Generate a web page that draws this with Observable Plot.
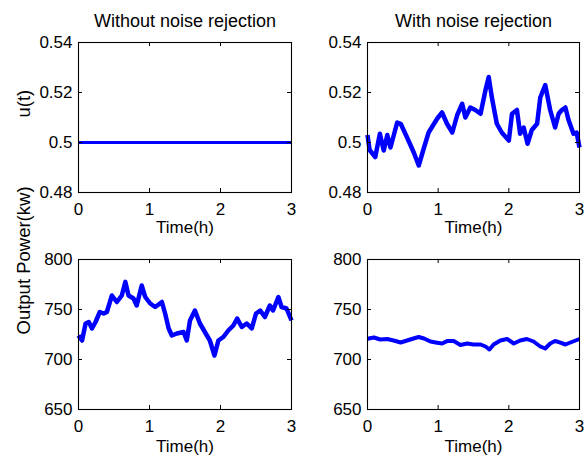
<!DOCTYPE html>
<html><head><meta charset="utf-8">
<script src="https://cdn.jsdelivr.net/npm/d3@7"></script>
<script src="https://cdn.jsdelivr.net/npm/@observablehq/plot@0.6"></script>
<style>
body{margin:0;background:#fff;}
#chart{position:relative;width:585px;height:456px;font-family:"Liberation Sans",Arial,Helvetica,sans-serif;}
#chart svg{position:absolute;overflow:visible;}
</style></head><body><div id="chart"></div>
<script>
// ---- data ----
const timeFlat = [0, 3];
const uWithout = [0.5, 0.5];

const timeU = [0,0.03,0.11,0.175,0.23,0.28,0.325,0.42,0.47,0.56,0.655,0.725,0.8,0.865,0.985,1.055,1.125,1.2,1.27,1.34,1.385,1.455,1.525,1.6,1.67,1.715,1.76,1.83,1.9,2.0,2.045,2.115,2.16,2.21,2.265,2.325,2.4,2.445,2.515,2.585,2.655,2.705,2.75,2.8,2.845,2.915,2.96,3.0];
const uWith = [0.503,0.497,0.4942,0.5035,0.4968,0.503,0.498,0.508,0.5075,0.502,0.496,0.4908,0.498,0.504,0.5095,0.512,0.5075,0.504,0.511,0.5155,0.510,0.514,0.513,0.5115,0.521,0.5262,0.518,0.5075,0.504,0.5008,0.5115,0.513,0.5035,0.506,0.4995,0.505,0.5075,0.518,0.523,0.513,0.506,0.5115,0.513,0.514,0.509,0.5035,0.504,0.498];

const timeP1 = [0,0.05,0.1,0.145,0.19,0.24,0.3,0.355,0.4,0.47,0.54,0.61,0.66,0.705,0.775,0.82,0.89,0.94,1.01,1.08,1.175,1.22,1.27,1.315,1.385,1.48,1.525,1.57,1.64,1.71,1.78,1.85,1.915,1.97,2.04,2.11,2.18,2.235,2.3,2.37,2.44,2.5,2.56,2.625,2.695,2.74,2.815,2.86,2.93,3.0];
const powerWithout = [724,719,736,737.5,731,737.5,747.5,746,747.5,764,757.5,764,777.6,764,761,754,774,762.5,756,752.5,757.5,746,731,724,726,727.5,719,739,749,736,727.5,719,704,719,722.5,729,734,741,732.5,736,731,746,749,742.5,754,749,762.5,752.5,751,739];

const timeP2 = [0,0.09,0.18,0.28,0.37,0.47,0.56,0.65,0.725,0.8,0.89,0.985,1.055,1.125,1.22,1.315,1.41,1.5,1.6,1.67,1.725,1.785,1.88,1.975,2.07,2.16,2.255,2.35,2.445,2.515,2.585,2.655,2.73,2.8,2.89,3.0];
const powerWith = [720.8,722,720,720.5,719,717,719,721,722.5,721,718,716.8,716,718.4,718.5,714.5,716,715,715,713,710,715,719,720.5,716,719,720.5,718,713,711,716,718.5,716.8,715,717.5,720.5];

const xTicks = [0, 1, 2, 3];
const uTicks = [0.48, 0.5, 0.52, 0.54];
const pTicks = [650, 700, 750, 800];
const titles = ["Without noise rejection", "With noise rejection"];
const yLabels = ["u(t)", "Output Power(kw)"];
const xLabel = "Time(h)";

// ---- drawing ----
const FONT = '"Liberation Sans", Arial, Helvetica, sans-serif';
const chart = document.getElementById("chart");

function panel(o) {
  const data = o.t.map((x, i) => ({t: x, v: o.v[i]}));
  const ih = o.height - o.mt - o.mb, iw = o.width - o.ml - o.mr;
  const marks = [
    Plot.line(data, {x: "t", y: "v", stroke: "#0000ff", strokeWidth: o.sw, strokeLinejoin: "round", strokeLinecap: "butt"}),
    Plot.frame({stroke: "#000", strokeWidth: 1.1}),
    Plot.tickX(xTicks, {x: d => d, insetTop: ih - 4, stroke: "#000"}),
    Plot.tickX(xTicks, {x: d => d, insetBottom: ih - 4, stroke: "#000"}),
    Plot.tickY(o.yTicks, {y: d => d, insetRight: iw - 4, stroke: "#000"}),
    Plot.tickY(o.yTicks, {y: d => d, insetLeft: iw - 4, stroke: "#000"}),
    Plot.axisX(xTicks, {tickSize: 0, tickPadding: 10, fontSize: 17, label: null, tickFormat: d => String(d), fill: "#000"}),
    Plot.axisY(o.yTicks, {tickSize: 0, tickPadding: 6, fontSize: 17, label: null, tickFormat: d => String(d), fill: "#000"}),
    Plot.text([xLabel], {text: d => d, frameAnchor: "bottom", dy: o.xlDy, lineAnchor: "middle", fontSize: 17, fill: "#000"})
  ];
  if (o.title) marks.push(Plot.text([o.title], {text: d => d, frameAnchor: "top", dy: -21, lineAnchor: "middle", fontSize: 18, fill: "#000"}));
  if (o.ylabel) marks.push(Plot.text([o.ylabel], {text: d => d, frameAnchor: "left", dx: -54, rotate: -90, lineAnchor: "middle", fontSize: 18.5, fill: "#000"}));
  const svg = Plot.plot({
    width: o.width, height: o.height,
    marginLeft: o.ml, marginRight: o.mr, marginTop: o.mt, marginBottom: o.mb,
    x: {domain: [0, 3], label: null},
    y: {domain: o.yDomain, label: null},
    style: {fontFamily: FONT, fontSize: "17px", background: "transparent", color: "#000"},
    marks
  });
  svg.style.left = o.left + "px";
  svg.style.top = o.top + "px";
  chart.appendChild(svg);
}

panel({left: 0, top: 0, width: 300, height: 235, ml: 78, mr: 9, mt: 42, mb: 43,
  t: timeFlat, v: uWithout, yDomain: [0.48, 0.54], yTicks: uTicks, title: titles[0], ylabel: yLabels[0], sw: 3, xlDy: 35});
panel({left: 292, top: 0, width: 293, height: 235, ml: 75, mr: 6, mt: 42, mb: 43,
  t: timeU, v: uWith, yDomain: [0.48, 0.54], yTicks: uTicks, title: titles[1], ylabel: null, sw: 4.5, xlDy: 35});
panel({left: 0, top: 228, width: 300, height: 228, ml: 78, mr: 9, mt: 31, mb: 47,
  t: timeP1, v: powerWithout, yDomain: [650, 800], yTicks: pTicks, title: null, ylabel: yLabels[1], sw: 4.5, xlDy: 37});
panel({left: 292, top: 228, width: 293, height: 228, ml: 75, mr: 6, mt: 31, mb: 47,
  t: timeP2, v: powerWith, yDomain: [650, 800], yTicks: pTicks, title: null, ylabel: null, sw: 4, xlDy: 37});
</script></body></html>
